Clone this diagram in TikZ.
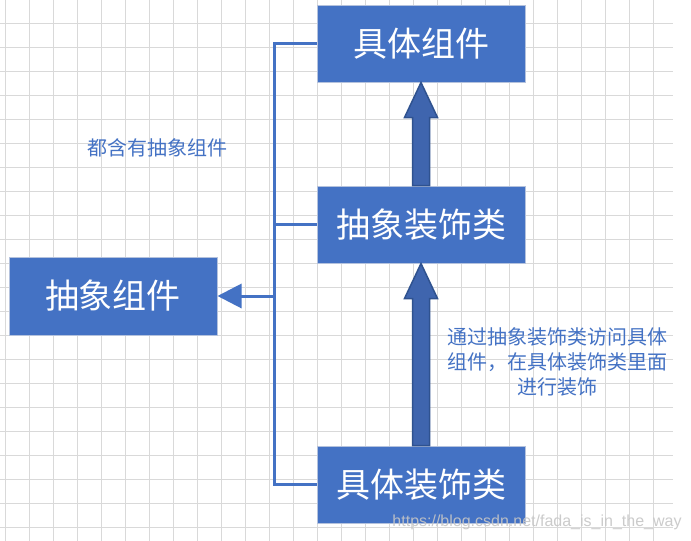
\documentclass[tikz,border=0pt]{standalone}
\usepackage{fontspec}
\setmainfont{Noto Sans CJK SC}
\newfontfamily\markfont{Liberation Sans}
\usepackage{tikz}
\usetikzlibrary{arrows.meta, calc, positioning}

\definecolor{boxblue}{HTML}{4472C4}
\definecolor{boxedge}{HTML}{B4C2DD}
\definecolor{arrowfill}{HTML}{3F65AE}
\definecolor{arrowedge}{HTML}{2F528F}
\definecolor{gridgray}{HTML}{D9D9D9}

\newcommand\bigarrow[2]{%
  \filldraw[big arrow] ($(#1.north)+(-8.5,0)$) -- ($(#2.south)+(-8.5,35)$)
    -- ($(#2.south)+(-16.5,35)$) -- (#2.south) -- ($(#2.south)+(16.5,35)$)
    -- ($(#2.south)+(8.5,35)$) -- ($(#1.north)+(8.5,0)$) -- cycle;}

\begin{document}
\begin{tikzpicture}[x=1pt,y=-1pt]
    \tikzset{
        class node/.style={rectangle, draw=boxedge, line width=1pt, fill=boxblue, text=white, minimum width=208pt, minimum height=77pt, inner sep=0pt, font=\fontsize{34}{40}\selectfont},
        note text/.style={text=boxblue, align=center, inner sep=0pt, font=\fontsize{20}{25}\selectfont},
        link/.style={draw=boxblue, line width=3pt, line join=miter},
        big arrow/.style={fill=arrowfill, draw=arrowedge, line width=1.5pt, line join=miter},
        grid line/.style={draw=gridgray, line width=1pt}
      }
\useasboundingbox (0,0) rectangle (691,541);
\fill[white] (0,0) rectangle (691,541);
\foreach \y in {0,...,21} \draw[grid line] (0,23+24*\y) -- (673,23+24*\y);
\foreach \x in {0,...,27} \draw[grid line] (5+24*\x,0) -- (5+24*\x,541);

\node[class node] (concrete) at (421,43.5) {具体组件};
\node[class node] (absdec) at (421,224.5) {抽象装饰类};
\node[class node, minimum height=78pt] (abscomp) at (113,296) {抽象组件};
\node[class node] (condec) at (421,484.5) {具体装饰类};

\coordinate (bus top) at (274,43.5);
\coordinate (bus bottom) at (274,484.5);
\draw[link] (concrete.west) -- (bus top) -- (bus bottom) -- (condec.west);
\draw[link] (absdec.west) -- (absdec.west -| bus top);
\draw[link, -{Triangle[length=24pt,width=24pt]}] (abscomp.east -| bus top) -- (abscomp.east);

\bigarrow{absdec}{concrete}
\bigarrow{condec}{absdec}

\node[note text] (hasnote) at (157,148) {都含有抽象组件};
\node[note text] (decnote) at (557,362) {通过抽象装饰类访问具体\\组件，在具体装饰类里面\\进行装饰};
\node[text=gray!45, opacity=0.9, inner sep=0pt, font=\markfont\fontsize{16}{18}\selectfont] (mark) at (537,522) {https://blog.csdn.net/fada\_is\_in\_the\_way};
\end{tikzpicture}
\end{document}
